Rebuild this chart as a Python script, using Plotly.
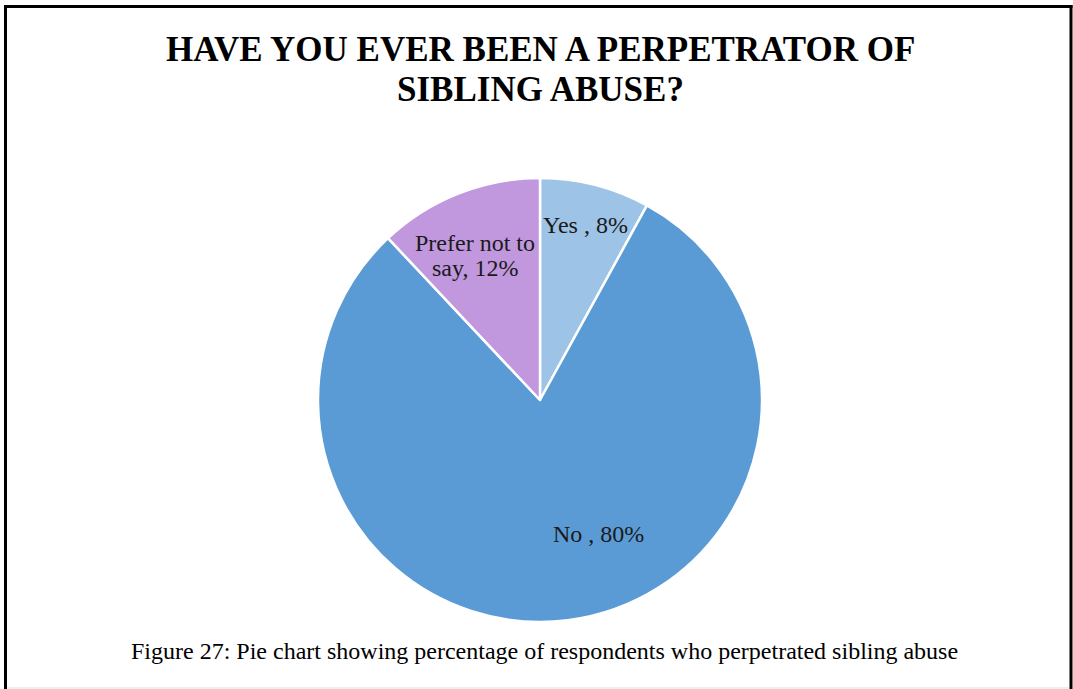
import plotly.graph_objects as go

labels = ["Yes ", "No ", "Prefer not to say"]
values = [8, 80, 12]
label_lines = [["Yes , 8%"], ["No , 80%"], ["Prefer not to", "say, 12%"]]
colors = ["#9DC3E6", "#5B9BD5", "#C197DE"]
title_lines = ["HAVE YOU EVER BEEN A PERPETRATOR OF", "SIBLING ABUSE?"]
caption_text = "Figure 27: Pie chart showing percentage of respondents who perpetrated sibling abuse"

W, H = 1073, 689
cx, cy, r = 540, 400, 222

fig = go.Figure(go.Pie(
    labels=labels, values=values, sort=False, direction="clockwise", rotation=0,
    marker=dict(colors=colors, line=dict(color="white", width=2.5)),
    textinfo="none", hoverinfo="label+percent", showlegend=False,
    domain=dict(x=[(cx - r) / W, (cx + r) / W], y=[(H - cy - r) / H, (H - cy + r) / H]),
))

font = "Liberation Serif, Times New Roman, serif"
label_pos = [(585.5, [225]), (598, [534]), (475, [243.5, 267.5])]
ann = []
for lines, (px, pys) in zip(label_lines, label_pos):
    for t, py in zip(lines, pys):
        ann.append(dict(text=t, x=px / W, y=1 - py / H, xref="paper", yref="paper",
                        showarrow=False, font=dict(family=font, size=24, color="#1a1a1a"),
                        xanchor="center", yanchor="middle", align="center"))
for t, py in zip(title_lines, [49.5, 89.5]):
    ann.append(dict(text="<b>" + t + "</b>", x=540.5 / W, y=1 - py / H, xref="paper", yref="paper",
                    showarrow=False, font=dict(family=font, size=35, color="black"),
                    xanchor="center", yanchor="middle", align="center"))
ann.append(dict(text=caption_text, x=544.5 / W, y=1 - 651 / H, xref="paper", yref="paper",
                showarrow=False, font=dict(family=font, size=24, color="black"),
                xanchor="center", yanchor="middle"))

shapes = [
    dict(type="line", xref="paper", yref="paper", x0=5.5 / W, x1=5.5 / W, y0=0, y1=1 - 5 / H,
         line=dict(color="black", width=3)),
    dict(type="line", xref="paper", yref="paper", x0=1071 / W, x1=1071 / W, y0=0, y1=1 - 5 / H,
         line=dict(color="black", width=3)),
    dict(type="line", xref="paper", yref="paper", x0=4 / W, x1=1072.5 / W, y0=1 - 6.5 / H, y1=1 - 6.5 / H,
         line=dict(color="black", width=3)),
    dict(type="line", xref="paper", yref="paper", x0=7 / W, x1=1069 / W, y0=1 - 688 / H, y1=1 - 688 / H,
         line=dict(color="#dddddd", width=1)),
]

fig.update_layout(
    width=W, height=H, margin=dict(l=0, r=0, t=0, b=0),
    paper_bgcolor="white", plot_bgcolor="white",
    annotations=ann, shapes=shapes,
)
fig.write_html("out.html", config={"displayModeBar": False},
               post_script="document.body.style.margin='0';document.body.style.overflow='hidden';")
